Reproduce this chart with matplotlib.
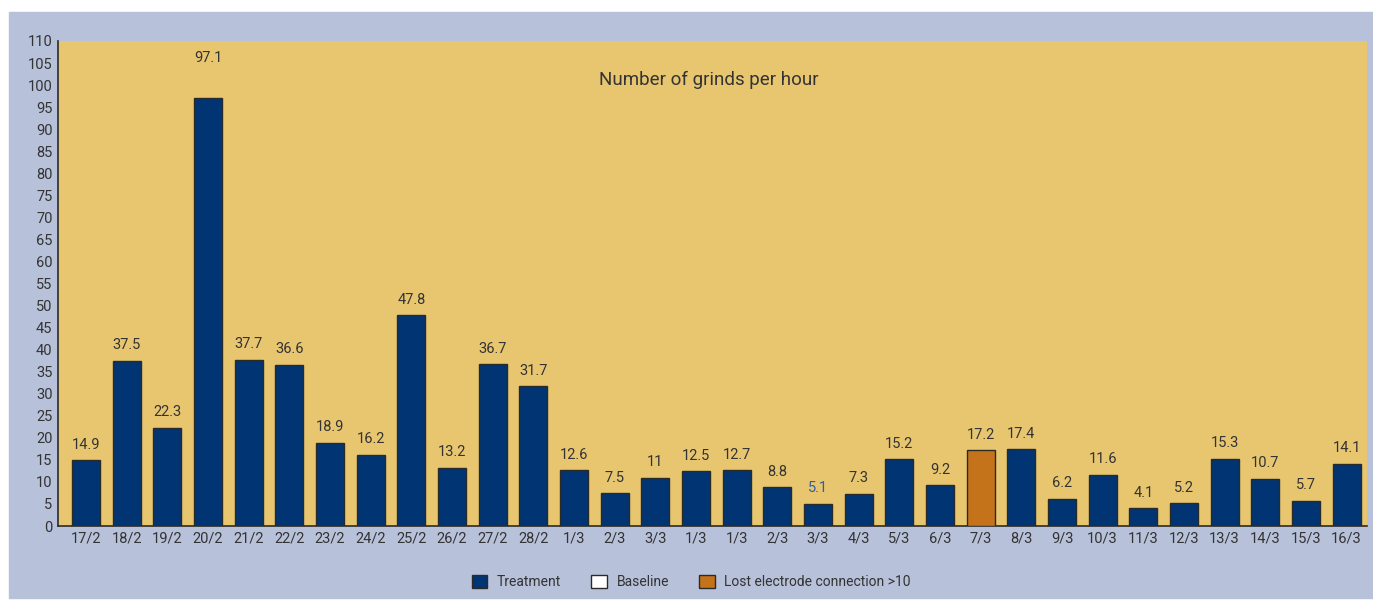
import matplotlib.pyplot as plt
from matplotlib.patches import Patch, Rectangle

plt.rcParams['font.family'] = ['Roboto', 'DejaVu Sans']

# Datos
fechas = ["17/2", "18/2", "19/2", "20/2", "21/2", "22/2", "23/2", "24/2", "25/2", "26/2",
          "27/2", "28/2", "1/3", "2/3", "3/3", "1/3", "1/3", "2/3", "3/3", "4/3",
          "5/3", "6/3", "7/3", "8/3", "9/3", "10/3", "11/3", "12/3", "13/3", "14/3",
          "15/3", "16/3"]
valores = [14.9, 37.5, 22.3, 97.1, 37.7, 36.6, 18.9, 16.2, 47.8, 13.2,
           36.7, 31.7, 12.6, 7.5, 11, 12.5, 12.7, 8.8, 5.1, 7.3,
           15.2, 9.2, 17.2, 17.4, 6.2, 11.6, 4.1, 5.2, 15.3, 10.7,
           5.7, 14.1]
etiquetas = ["14.9", "37.5", "22.3", "97.1", "37.7", "36.6", "18.9", "16.2", "47.8", "13.2",
             "36.7", "31.7", "12.6", "7.5", "11", "12.5", "12.7", "8.8", "5.1", "7.3",
             "15.2", "9.2", "17.2", "17.4", "6.2", "11.6", "4.1", "5.2", "15.3", "10.7",
             "5.7", "14.1"]
indice_perdida = [22]  # 7/3: lost electrode connection

azul = "#003473"
naranja = "#C5731A"
fondo = "#B8C1DA"
amarillo = "#E8C670"
texto = "#333333"

fig = plt.figure(figsize=(13.73, 6.01), dpi=100)
fig.patches.append(Rectangle((9 / 1373, 3 / 601), 1 - 9 / 1373, (601 - 15) / 601,
                             transform=fig.transFigure, color=fondo, zorder=-10))

ax = fig.add_axes([58 / 1373, 75 / 601, (1367 - 58) / 1373, (526 - 41) / 601])
ax.set_facecolor(amarillo)

colores = [naranja if i in indice_perdida else azul for i in range(len(valores))]
x = list(range(len(valores)))
ax.bar(x, valores, width=0.69, color=colores, edgecolor="#2a2a2a", linewidth=1.0, zorder=3)

for i, (v, t) in enumerate(zip(valores, etiquetas)):
    c = "#2f5fa0" if i == 18 else texto
    extra = 7.4 if v > 90 else 1.9   # la etiqueta del pico va más alta en el original
    ax.text(i, v + extra, t, ha="center", va="bottom", fontsize=10.5, color=c)

ax.set_xlim(-0.69, len(valores) - 0.5)
ax.set_ylim(0, 110)
ax.set_yticks(range(0, 111, 5))
ax.set_xticks(x)
ax.set_xticklabels(fechas)
ax.tick_params(axis="both", length=0, labelsize=10.5, labelcolor=texto)
ax.tick_params(axis="y", pad=4)
ax.tick_params(axis="x", pad=4)
for s in ["top", "right"]:
    ax.spines[s].set_visible(False)
for s in ["left", "bottom"]:
    ax.spines[s].set_color("#2a2a2a")
    ax.spines[s].set_linewidth(1.2)

ax.text(0.497, 0.92, "Number of grinds per hour", transform=ax.transAxes,
        ha="center", va="center", fontsize=13.5, color=texto)

handles = [Patch(facecolor=azul, edgecolor="#2a2a2a", label="Treatment"),
           Patch(facecolor="white", edgecolor="#2a2a2a", label="Baseline"),
           Patch(facecolor=naranja, edgecolor="#2a2a2a", label="Lost electrode connection >10")]
fig.legend(handles=handles, loc="center", bbox_to_anchor=(0.5035, 19 / 601), ncol=3,
           frameon=False, fontsize=10, handlelength=1.1, handleheight=1.1,
           columnspacing=2.2, handletextpad=0.7, labelcolor=texto)

fig.savefig("out.png", dpi=100)
